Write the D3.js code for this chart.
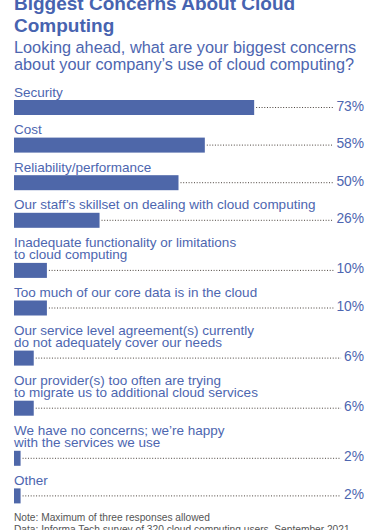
<!DOCTYPE html>
<html>
<head>
<meta charset="utf-8">
<script src="https://cdn.jsdelivr.net/npm/d3@7"></script>
<style>
  body { margin: 0; background: #fff; }
  svg { display: block; font-family: "Liberation Sans", Arial, sans-serif; }
</style>
</head>
<body>
<svg id="chart"></svg>
<script>
// data
var labels = [
    ["Security"],
    ["Cost"],
    ["Reliability/performance"],
    ["Our staff\u2019s skillset on dealing with cloud computing"],
    ["Inadequate functionality or limitations", "to cloud computing"],
    ["Too much of our core data is in the cloud"],
    ["Our service level agreement(s) currently", "do not adequately cover our needs"],
    ["Our provider(s) too often are trying", "to migrate us to additional cloud services"],
    ["We have no concerns; we\u2019re happy", "with the services we use"],
    ["Other"]
];
var values = [73, 58, 50, 26, 10, 10, 6, 6, 2, 2];
var titleLines = ["Biggest Concerns About Cloud", "Computing"];
var subtitleLines = ["Looking ahead, what are your biggest concerns", "about your company\u2019s use of cloud computing?"];
var notes = ["Note: Maximum of three responses allowed",
             "Data: Informa Tech survey of 320 cloud computing users, September 2021"];

var w = 376, h = 530;
var left = 14;
var barH = 15;
var blue = "#4e67a9";
var textBlue = "#4d66b0";

var svg = d3.select("#chart")
    .attr("width", w)
    .attr("height", h);

//Create scale functions
var xScale = d3.scaleLinear()
    .domain([0, 100])
    .range([left, left + 329]);

// bar tops: each row is a fixed gap plus one line per label line
var tops = [];
var y = 100;
labels.forEach(function(l, i) {
    if (i > 0) y += 25.1 + 12.5 * l.length;
    tops.push(y);
});

// Title
svg.append("g").selectAll("text")
    .data(titleLines)
    .enter()
    .append("text")
    .attr("x", left)
    .attr("y", function(d, i) { return 10 + i * 22; })
    .style("font-size", "19px")
    .style("font-weight", "bold")
    .style("fill", "#4763b0")
    .text(function(d) { return d; });

// Subtitle
svg.append("g").selectAll("text")
    .data(subtitleLines)
    .enter()
    .append("text")
    .attr("x", left)
    .attr("y", function(d, i) { return 53 + i * 17; })
    .style("font-size", "16.3px")
    .style("fill", textBlue)
    .text(function(d) { return d; });

var rows = svg.selectAll(".row")
    .data(values)
    .enter()
    .append("g")
    .attr("class", "row")
    .attr("transform", function(d, i) { return "translate(0," + tops[i] + ")"; });

// labels
rows.each(function(d, i) {
    var g = d3.select(this);
    var n = labels[i].length;
    labels[i].forEach(function(line, j) {
        g.append("text")
            .attr("x", left)
            .attr("y", -3.5 - (n - 1 - j) * 12.5)
            .style("font-size", "13.5px")
            .style("fill", textBlue)
            .text(line);
    });
});

// bars
rows.append("rect")
    .attr("x", xScale(0))
    .attr("y", 0)
    .attr("width", function(d) { return xScale(d) - xScale(0); })
    .attr("height", barH)
    .style("fill", blue);

// percent labels
rows.append("text")
    .attr("class", "pct")
    .attr("x", 364)
    .attr("y", 10.5)
    .attr("text-anchor", "end")
    .style("font-size", "13.8px")
    .style("fill", textBlue)
    .text(function(d) { return d + "%"; });

// dotted leaders
rows.each(function(d) {
    var g = d3.select(this);
    var tw = g.select(".pct").node().getComputedTextLength();
    g.append("line")
        .attr("x1", xScale(d) + 2)
        .attr("x2", 364 - tw - 3)
        .attr("y1", 7.5)
        .attr("y2", 7.5)
        .style("stroke", "#4a423c")
        .style("stroke-width", 1)
        .style("stroke-dasharray", "1,1.7");
});

// notes
svg.append("g").selectAll("text")
    .data(notes)
    .enter()
    .append("text")
    .attr("x", left)
    .attr("y", function(d, i) { return 521 + i * 12; })
    .style("font-size", "10.2px")
    .style("fill", "#555")
    .text(function(d) { return d; });
</script>
</body>
</html>
